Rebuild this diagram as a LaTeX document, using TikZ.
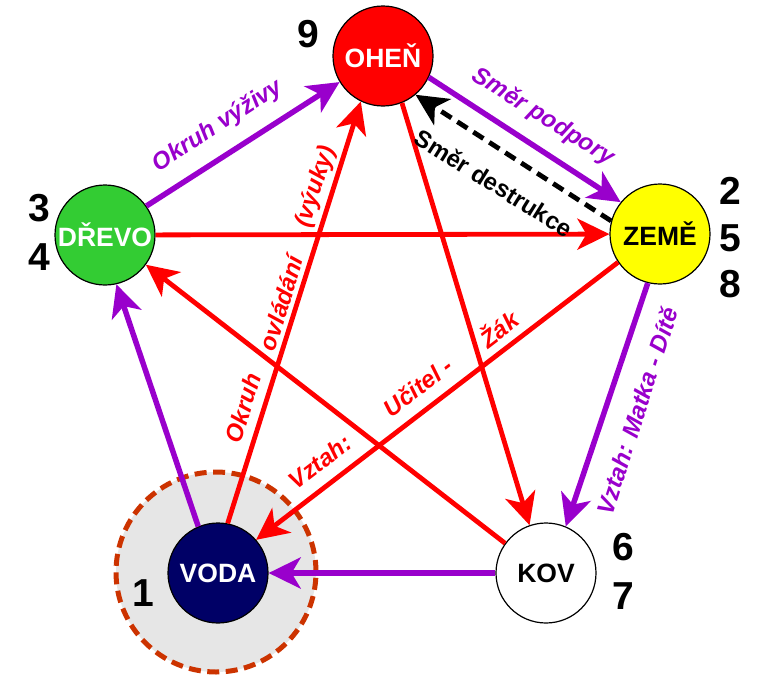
\documentclass[tikz,border=0pt]{standalone}
\usepackage{fontspec}
\setmainfont{Liberation Sans}
\usetikzlibrary{arrows.meta}
\definecolor{pur}{HTML}{9900CC}
\definecolor{rd}{HTML}{FF0000}
\definecolor{grn}{HTML}{33CC33}
\definecolor{ylw}{HTML}{FFFF00}
\definecolor{nvy}{HTML}{000066}
\definecolor{rust}{HTML}{CC3300}
\definecolor{lgray}{HTML}{E6E6E6}
\begin{document}
\begin{tikzpicture}[x=1pt,y=-1pt,
 elem/.style={circle,draw=black,line width=1.2pt,minimum size=100pt,inner sep=0pt,font=\fontsize{26.5}{26.5}\selectfont\bfseries},
 num/.style={font=\fontsize{39}{39}\selectfont\bfseries,inner sep=0pt},
 lab/.style={font=\fontsize{24}{24}\selectfont\bfseries\itshape,inner sep=0pt},
 labup/.style={font=\fontsize{24}{24}\selectfont\bfseries,inner sep=0pt},
 arr/.style={-{Stealth[length=32pt,width=31pt,inset=9pt]}},
 gen/.style={arr,draw=pur,line width=5.5pt},
 ctl/.style={arr,draw=rd,line width=4.8pt},
 des/.style={arr,draw=black,line width=4.8pt,dash pattern=on 12pt off 7pt},
]
\useasboundingbox (0,0) rectangle (768,680);
\node[circle,draw=rust,fill=lgray,line width=5pt,dash pattern=on 12pt off 6.5pt,minimum size=200pt,inner sep=0pt] (halo) at (216,572) {};

\node[elem,fill=rd,text=white] (ohen) at (383,56) {OHEŇ};
\node[elem,fill=ylw] (zeme) at (660,234) {ZEMĚ};
\node[elem,fill=grn,text=white] (drevo) at (105,235) {DŘEVO};
\node[elem,fill=nvy,text=white] (voda) at (218,573) {VODA};
\node[elem,fill=white] (kov) at (546,573) {KOV};

\node[num] (n9) at (308,34) {9};
\node[num] (n3) at (39,208) {3};
\node[num] (n4) at (39,257) {4};
\node[num] (n2) at (730,191) {2};
\node[num] (n5) at (730,238) {5};
\node[num] (n8) at (730,284) {8};
\node[num] (n6) at (623,547) {6};
\node[num] (n7) at (623,596) {7};
\node[num] (n1) at (143,593) {1};

\draw[gen] (drevo.35) -- (ohen.211);
\draw[gen] (ohen.-25) -- (zeme.141);
\draw[gen] (zeme.-104) -- (kov.67);
\draw[gen] (kov) -- (voda);
\draw[gen] (voda.113) -- (drevo.-77);
\draw[ctl] (drevo) -- (zeme);
\draw[ctl] (zeme.-146) -- (voda.41);
\draw[ctl] (voda.79) -- (ohen.-116);
\draw[ctl] (ohen.-68) -- (kov.109);
\draw[ctl] (kov.144) -- (drevo.-36);
\draw[des] (zeme.165) -- (ohen.-50);

\node[lab,text=pur,rotate=33] (l1) at (218,126) {Okruh výživy};
\node[lab,text=pur,rotate=-32] (l2) at (543,117) {Směr podpory};
\node[labup,rotate=-32] (l3) at (494,183) {Směr destrukce};
\node[lab,text=pur,rotate=72] (l4) at (637,411) {Vztah: Matka - Dítě};
\node[lab,text=rd,rotate=72.5] (l5) at (243,408) {Okruh};
\node[lab,text=rd,rotate=72.5] (l6) at (281,303) {ovládání};
\node[lab,text=rd,rotate=72.5] (l7) at (316,187) {(výuky)};
\node[lab,text=rd,rotate=37.5] (l8) at (320,462) {Vztah:};
\node[lab,text=rd,rotate=37.5] (l9) at (418,387) {Učitel -};
\node[lab,text=rd,rotate=37.5] (l10) at (498,328) {Žák};
\end{tikzpicture}
\end{document}
